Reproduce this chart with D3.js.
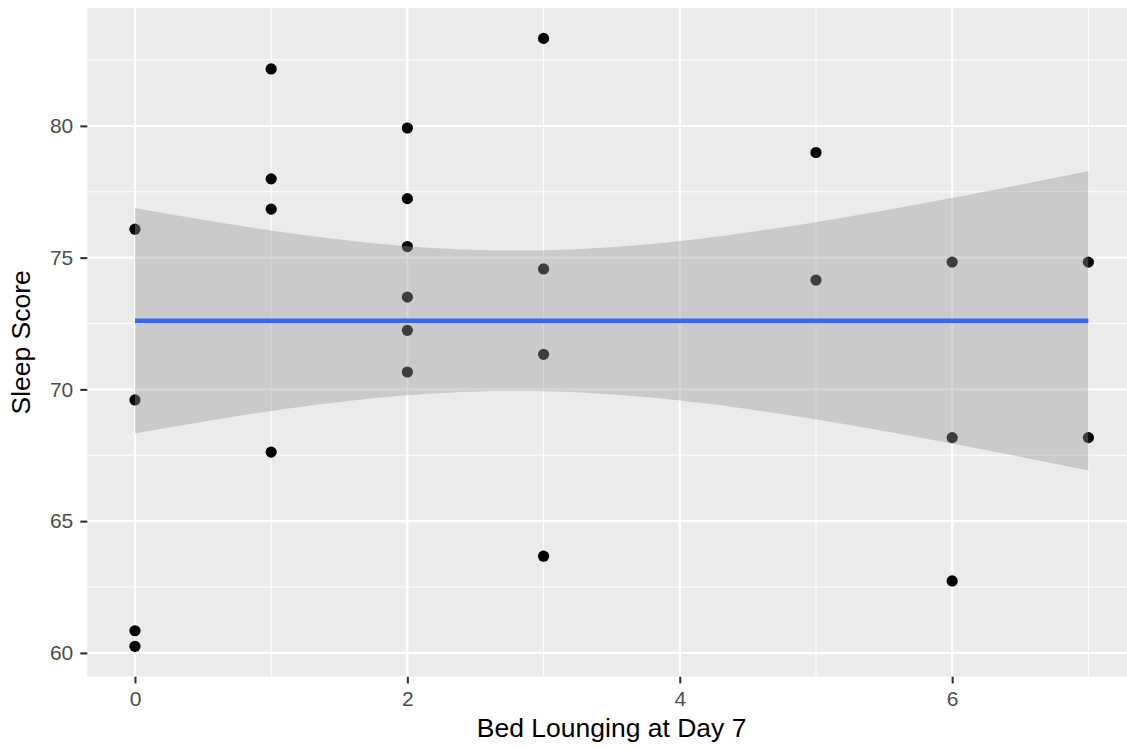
<script src="https://d3js.org/d3.v7.min.js"></script>
<body style="margin:0">
<script>
    // Data
    var bedLounging = [0, 0, 0, 0,
                       1, 1, 1, 1,
                       2, 2, 2, 2, 2, 2,
                       3, 3, 3, 3,
                       5, 5,
                       6, 6, 6,
                       7, 7];
    var sleepScore = [76.08, 69.6, 60.84, 60.25,
                      82.16, 77.99, 76.84, 67.62,
                      79.92, 77.24, 75.42, 73.5, 72.24, 70.66,
                      83.32, 74.57, 71.33, 63.67,
                      78.99, 74.15,
                      74.83, 68.17, 62.73,
                      74.83, 68.17];
    var xTicks = [0, 2, 4, 6];
    var xMinor = [1, 3, 5, 7];
    var yTicks = [60, 65, 70, 75, 80];
    var yMinor = [62.5, 67.5, 72.5, 77.5, 82.5];

    var data = bedLounging.map(function(x, i) { return {x: x, y: sleepScore[i]}; });

    // SVG dimensions
    var SVGWidth = 1127;
    var SVGHeight = 749;

    // panel box
    var panel = {left: 87.3, top: 8, bottom: 676.7};
    panel.right = panel.left + 7.7 * 136.2;

    // scales with ggplot's 5% expansion
    var xExt = d3.extent(bedLounging), yExt = d3.extent(sleepScore);
    var xPad = (xExt[1] - xExt[0]) * 0.05, yPad = (yExt[1] - yExt[0]) * 0.05;
    var x = d3.scaleLinear().domain([xExt[0] - xPad, xExt[1] + xPad]).range([panel.left, panel.right]);
    var y = d3.scaleLinear().domain([yExt[0] - yPad, yExt[1] + yPad]).range([panel.bottom, panel.top]);

    var svg = d3.select("body")
        .append("svg")
        .attr("width", SVGWidth)
        .attr("height", SVGHeight)
        .style("font-family", "'Liberation Sans', Arial, sans-serif");

    svg.append("rect")
        .attr("width", SVGWidth).attr("height", SVGHeight)
        .attr("fill", "white");

    svg.append("rect")
        .attr("x", panel.left).attr("y", panel.top)
        .attr("width", panel.right - panel.left)
        .attr("height", panel.bottom - panel.top)
        .attr("fill", "#EBEBEB");

    // grid
    var grid = svg.append("g");
    grid.selectAll(".ymin").data(yMinor).enter().append("line")
        .attr("x1", panel.left).attr("x2", panel.right)
        .attr("y1", function(d) { return y(d); }).attr("y2", function(d) { return y(d); })
        .attr("stroke", "white").attr("stroke-width", 1.05);
    grid.selectAll(".xmin").data(xMinor).enter().append("line")
        .attr("y1", panel.top).attr("y2", panel.bottom)
        .attr("x1", function(d) { return x(d); }).attr("x2", function(d) { return x(d); })
        .attr("stroke", "white").attr("stroke-width", 1.05);
    grid.selectAll(".ymaj").data(yTicks).enter().append("line")
        .attr("x1", panel.left).attr("x2", panel.right)
        .attr("y1", function(d) { return y(d); }).attr("y2", function(d) { return y(d); })
        .attr("stroke", "white").attr("stroke-width", 2.1);
    grid.selectAll(".xmaj").data(xTicks).enter().append("line")
        .attr("y1", panel.top).attr("y2", panel.bottom)
        .attr("x1", function(d) { return x(d); }).attr("x2", function(d) { return x(d); })
        .attr("stroke", "white").attr("stroke-width", 2.1);

    // points (drawn under the smoother, as ggplot does here)
    svg.selectAll(".dot")
        .data(data)
        .enter()
        .append("circle")
        .attr("cx", function(d) { return x(d.x); })
        .attr("cy", function(d) { return y(d.y); })
        .attr("r", 5.6)
        .attr("fill", "black");

    // linear fit with 95% confidence band
    var n = data.length;
    var xbar = d3.mean(bedLounging), ybar = d3.mean(sleepScore);
    var sxx = d3.sum(bedLounging, function(v) { return (v - xbar) * (v - xbar); });
    var sxy = d3.sum(data, function(d) { return (d.x - xbar) * (d.y - ybar); });
    var slope = sxy / sxx, intercept = ybar - slope * xbar;
    var sse = d3.sum(data, function(d) { var r = d.y - (intercept + slope * d.x); return r * r; });
    var s = Math.sqrt(sse / (n - 2));
    var tCrit = 2.0687; // qt(0.975, 23)

    var fit = d3.range(80).map(function(i) {
        var xv = xExt[0] + (xExt[1] - xExt[0]) * i / 79;
        var yv = intercept + slope * xv;
        var se = s * Math.sqrt(1 / n + (xv - xbar) * (xv - xbar) / sxx);
        return {x: xv, y: yv, lo: yv - tCrit * se, hi: yv + tCrit * se};
    });

    svg.append("path")
        .datum(fit)
        .attr("d", d3.area()
            .x(function(d) { return x(d.x); })
            .y0(function(d) { return y(d.lo); })
            .y1(function(d) { return y(d.hi); }))
        .attr("fill", "#999999")
        .attr("fill-opacity", 0.4);

    svg.append("path")
        .datum(fit)
        .attr("d", d3.line()
            .x(function(d) { return x(d.x); })
            .y(function(d) { return y(d.y); }))
        .attr("fill", "none")
        .attr("stroke", "#3366FF")
        .attr("stroke-width", 4.6);

    // axes
    var xAxis = svg.append("g")
        .attr("transform", "translate(0," + panel.bottom + ")")
        .call(d3.axisBottom(x).tickValues(xTicks).tickSize(6.7).tickPadding(8).tickFormat(d3.format("d")));
    var yAxis = svg.append("g")
        .attr("transform", "translate(" + panel.left + ",0)")
        .call(d3.axisLeft(y).tickValues(yTicks).tickSize(7).tickPadding(7).tickFormat(d3.format("d")));

    [xAxis, yAxis].forEach(function(a) {
        a.select(".domain").remove();
        a.selectAll(".tick line").attr("stroke", "#333333").attr("stroke-width", 2.1);
        a.selectAll(".tick text")
            .attr("fill", "#4D4D4D")
            .style("font-size", "21px")
            .style("font-family", "'Liberation Sans', Arial, sans-serif");
    });

    // Axis labels
    svg.append("text")
        .attr("x", (panel.left + panel.right) / 2)
        .attr("y", 737)
        .style("text-anchor", "middle")
        .style("font-size", "26.5px")
        .text("Bed Lounging at Day 7");

    svg.append("text")
        .attr("transform", "translate(30," + ((panel.top + panel.bottom) / 2) + ") rotate(-90)")
        .style("text-anchor", "middle")
        .style("font-size", "26.5px")
        .text("Sleep Score");
</script>
</body>
